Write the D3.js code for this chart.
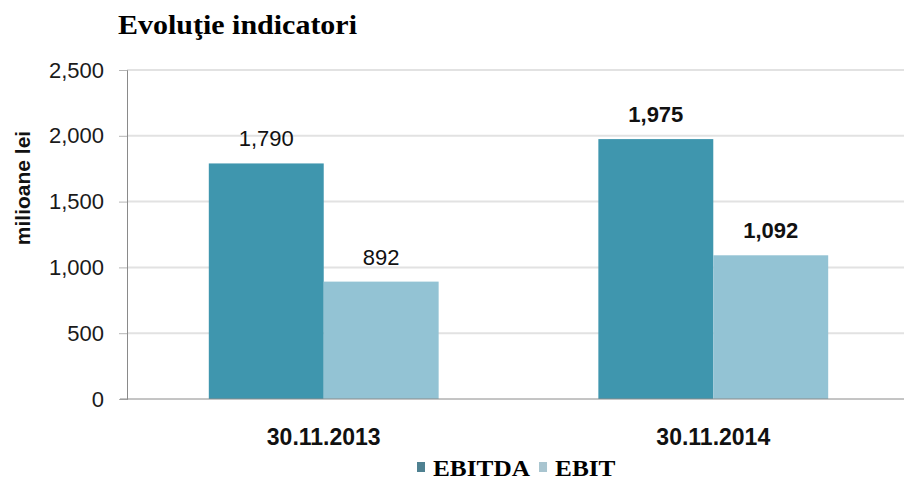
<!DOCTYPE html>
<html>
<head>
<meta charset="utf-8">
<script src="https://cdn.jsdelivr.net/npm/d3@7"></script>
<style>
  body { margin: 0; background: #fff; }
  svg { display: block; }
</style>
</head>
<body>
<div id="chart"></div>
<script>
// chart data
var categories = ["30.11.2013", "30.11.2014"];
var seriesNames = ["EBITDA", "EBIT"];
var ebitda = [1790, 1975];
var ebit = [892, 1092];
var boldLabels = [false, true];
var yTicks = [0, 500, 1000, 1500, 2000, 2500];

var colors = { EBITDA: "#3f96ae", EBIT: "#93c3d4" };
var legendColors = { EBITDA: "#4f8191", EBIT: "#a9c5d0" };

var width = 904, height = 481;
var margin = { top: 70, left: 127, bottom: 82 };

var svg = d3.select("#chart").append("svg")
    .attr("width", width)
    .attr("height", height);

var rows = categories.map(function (c, i) {
    return { cat: c, bold: boldLabels[i], values: { EBITDA: ebitda[i], EBIT: ebit[i] } };
});

var y = d3.scaleLinear()
    .domain([0, 2500])
    .range([height - margin.bottom, margin.top]);

var x0 = d3.scaleBand()
    .domain(categories)
    .range([margin.left, 910])
    .paddingInner(0.41)
    .paddingOuter(0.21);

var x1 = d3.scaleBand()
    .domain(seriesNames)
    .range([0, x0.bandwidth()]);

// gridlines
svg.append("g")
    .selectAll("line")
    .data(yTicks.filter(d => d > 0))
    .enter().append("line")
    .attr("x1", margin.left)
    .attr("x2", width)
    .attr("y1", d => y(d))
    .attr("y2", d => y(d))
    .attr("stroke", "#e2e2e2")
    .attr("stroke-width", 2);

// y axis
var yAxis = svg.append("g")
    .attr("transform", "translate(" + margin.left + ",0)")
    .call(d3.axisLeft(y).tickValues(yTicks).tickSize(8).tickPadding(15)
        .tickFormat(d3.format(",")));
yAxis.select(".domain").attr("stroke", "#8a8a8a");
yAxis.selectAll(".tick line").attr("stroke", "#b5b5b5");
yAxis.selectAll("text")
    .attr("font-family", "Liberation Sans, Arial, sans-serif")
    .attr("font-size", 22)
    .attr("fill", "#1a1a1a");

// bars
var groups = svg.append("g")
    .selectAll("g")
    .data(rows)
    .enter().append("g")
    .attr("transform", d => "translate(" + x0(d.cat) + ",0)");

groups.selectAll("rect")
    .data(d => seriesNames.map(s => ({ key: s, value: d.values[s] })))
    .enter().append("rect")
    .attr("x", d => x1(d.key))
    .attr("y", d => y(d.value))
    .attr("width", x1.bandwidth())
    .attr("height", d => y(0) - y(d.value))
    .attr("fill", d => colors[d.key]);

groups.selectAll("text.val")
    .data(d => seriesNames.map(s => ({ key: s, value: d.values[s], bold: d.bold })))
    .enter().append("text")
    .attr("class", "val")
    .attr("x", d => x1(d.key) + x1.bandwidth() / 2)
    .attr("y", d => y(d.value) - 17)
    .attr("text-anchor", "middle")
    .attr("font-family", "Liberation Sans, Arial, sans-serif")
    .attr("font-size", 22)
    .attr("font-weight", d => d.bold ? "bold" : "normal")
    .attr("fill", "#111")
    .text(d => d3.format(",")(d.value));

// x axis baseline
svg.append("line")
    .attr("x1", 120)
    .attr("x2", width)
    .attr("y1", y(0))
    .attr("y2", y(0))
    .attr("stroke", "#8a8a8a");

svg.append("g")
    .selectAll("text")
    .data(categories)
    .enter().append("text")
    .attr("x", d => x0(d) + x0.bandwidth() / 2)
    .attr("y", 445)
    .attr("text-anchor", "middle")
    .attr("font-family", "Liberation Sans, Arial, sans-serif")
    .attr("font-size", 23)
    .attr("font-weight", "bold")
    .attr("fill", "#111")
    .text(d => d);

// y axis title
svg.append("text")
    .attr("transform", "translate(30,188) rotate(-90)")
    .attr("text-anchor", "middle")
    .attr("font-family", "Liberation Sans, Arial, sans-serif")
    .attr("font-size", 21)
    .attr("font-weight", "bold")
    .attr("fill", "#111")
    .text("milioane lei");

// title
svg.append("text")
    .attr("x", 118)
    .attr("y", 34)
    .attr("font-family", "Liberation Serif, Times New Roman, serif")
    .attr("font-size", 27)
    .attr("font-weight", "bold")
    .attr("fill", "#000")
    .attr("textLength", 239)
    .attr("lengthAdjust", "spacingAndGlyphs")
    .text("Evoluţie indicatori");

// legend
var legend = svg.append("g");
var lx = 417;
seriesNames.forEach(function (s) {
    legend.append("rect")
        .attr("x", lx)
        .attr("y", 462)
        .attr("width", 8)
        .attr("height", 10)
        .attr("fill", legendColors[s]);
    var t = legend.append("text")
        .attr("x", lx + 16)
        .attr("y", 476)
        .attr("font-family", "Liberation Serif, Times New Roman, serif")
        .attr("font-size", 23)
        .attr("font-weight", "bold")
        .attr("fill", "#000")
        .text(s);
    var w = t.node().getComputedTextLength() * 1.1;
    t.attr("textLength", w).attr("lengthAdjust", "spacingAndGlyphs");
    lx += 16 + w + 9;
});
</script>
</body>
</html>
